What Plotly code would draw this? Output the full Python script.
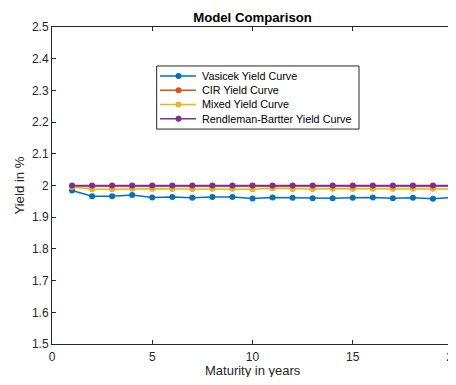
import plotly.graph_objects as go

maturity = list(range(1, 21))
vasicek = [1.984, 1.966, 1.966, 1.970, 1.962, 1.964, 1.961, 1.964, 1.964, 1.959,
           1.962, 1.961, 1.960, 1.960, 1.961, 1.962, 1.960, 1.961, 1.958, 1.962]
cir = [1.998] * 20
mixed = [1.995, 1.988, 1.988, 1.990, 1.990, 1.989, 1.989, 1.990, 1.990, 1.988,
         1.991, 1.989, 1.989, 1.990, 1.990, 1.990, 1.990, 1.990, 1.990, 1.989]
rb = [2.0] * 20

names = ["Vasicek Yield Curve", "CIR Yield Curve", "Mixed Yield Curve",
         "Rendleman-Bartter Yield Curve"]
values = [vasicek, cir, mixed, rb]
colors = ["#0072BD", "#D95319", "#EDB120", "#7E2F8E"]

fig = go.Figure()
for name, ys, col in zip(names, values, colors):
    fig.add_trace(go.Scatter(x=maturity, y=ys, name=name, mode="lines+markers",
                             line=dict(color=col, width=1.5),
                             marker=dict(color=col, size=6), showlegend=False))

# MATLAB-style compact legend box (paper coordinates)
leg_x0, leg_x1, leg_top, leg_bot = 0.261, 0.7656, 0.877, 0.678
row_y0, row_step = 0.8454, 0.0449
shapes = [dict(type="rect", xref="paper", yref="paper", x0=leg_x0, x1=leg_x1,
               y0=leg_bot, y1=leg_top, line=dict(color="#262626", width=1),
               fillcolor="white", layer="above")]
annotations = []
for i, (name, col) in enumerate(zip(names, colors)):
    yy = row_y0 - i * row_step
    shapes.append(dict(type="line", xref="paper", yref="paper", x0=0.2693, x1=0.3591,
                       y0=yy, y1=yy, line=dict(color=col, width=1.5), layer="above"))
    shapes.append(dict(type="circle", xref="paper", yref="paper",
                       xsizemode="pixel", ysizemode="pixel", xanchor=0.3155, yanchor=yy,
                       x0=-3, x1=3, y0=-3, y1=3, fillcolor=col,
                       line=dict(color=col, width=0), layer="above"))
    annotations.append(dict(text=name, xref="paper", yref="paper", x=0.369, y=yy,
                            xanchor="left", yanchor="middle", showarrow=False,
                            font=dict(size=10.8, color="black")))

# axis titles as annotations for precise placement
annotations.append(dict(text="Maturity in years", xref="paper", yref="paper",
                        x=0.5, y=-0.083, xanchor="center", yanchor="middle",
                        showarrow=False, borderpad=0,
                        font=dict(size=13, color="#262626")))
annotations.append(dict(text="Yield in %", xref="paper", yref="paper",
                        x=-0.082, y=0.5, xanchor="center", yanchor="middle",
                        textangle=-90, showarrow=False, borderpad=0,
                        font=dict(size=13.2, color="#262626")))

axis_common = dict(showline=True, linecolor="#262626", linewidth=1, mirror="allticks",
                   ticks="inside", ticklen=4, tickcolor="#262626", showgrid=False,
                   zeroline=False, automargin=False, ticklabeloverflow="allow",
                   tickfont=dict(size=12, color="#262626"))

fig.update_layout(
    width=448, height=369,
    margin=dict(l=44, r=3, t=19, b=33),
    paper_bgcolor="white", plot_bgcolor="white",
    font=dict(family="Liberation Sans, Arial, sans-serif", color="#262626"),
    title=dict(text="<b>Model Comparison</b>", x=0.5, xref="paper", xanchor="center",
               y=0.974, yanchor="middle", font=dict(size=13.2, color="black")),
    xaxis=dict(range=[0, 20], tickvals=[0, 5, 10, 15, 20], ticklabelstandoff=2,
               **axis_common),
    yaxis=dict(range=[1.5, 2.5], tickvals=[1.5 + 0.1 * i for i in range(11)],
               ticktext=["1.5", "1.6", "1.7", "1.8", "1.9", "2", "2.1", "2.2", "2.3", "2.4", "2.5"],
               **axis_common),
    shapes=shapes,
    annotations=annotations,
    showlegend=False,
)

fig.write_html("out.html")
